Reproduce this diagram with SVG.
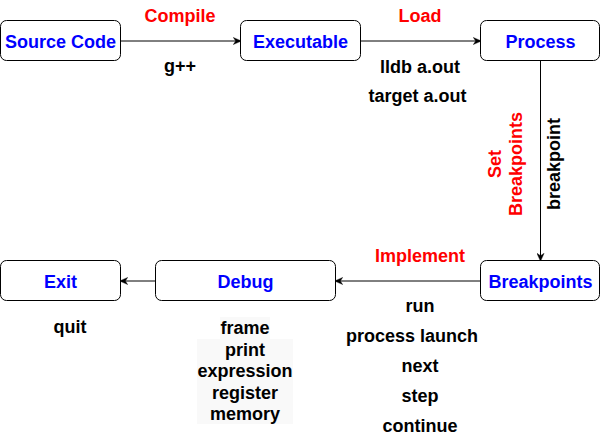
<svg xmlns="http://www.w3.org/2000/svg" width="601" height="440" viewBox="0 0 601 440">
<defs>
<style>
.box{fill:#fff;stroke:#000;stroke-width:1}
.nl{font-family:"Liberation Sans",Arial,sans-serif;font-weight:bold;font-size:18px;fill:#0000FF;text-anchor:middle}
.rl{font-family:"Liberation Sans",Arial,sans-serif;font-weight:bold;font-size:18px;fill:#FF0000;text-anchor:middle}
.bl{font-family:"Liberation Sans",Arial,sans-serif;font-weight:bold;font-size:18px;fill:#000;text-anchor:middle}
.edge{fill:none;stroke:#000;stroke-width:1}
</style>
<marker id="arr" viewBox="0 0 10 10" refX="9" refY="5" markerWidth="9" markerHeight="8" markerUnits="userSpaceOnUse" orient="auto">
<path d="M0,0.5 L10,5 L0,9.5 L3,5 Z" fill="#000" stroke="#000" stroke-width="0.5"/>
</marker>
</defs>
<rect width="601" height="440" fill="#fff"/>
<g id="connectors">
<path class="edge" d="M120.5,41 L240.5,41" marker-end="url(#arr)"/>
<path class="edge" d="M360.5,41 L480.5,41" marker-end="url(#arr)"/>
<path class="edge" d="M540.5,60.5 L540.5,260.5" marker-end="url(#arr)"/>
<path class="edge" d="M480.5,281 L335.5,281" marker-end="url(#arr)"/>
<path class="edge" d="M155.5,281 L120.5,281" marker-end="url(#arr)"/>
<text class="rl" x="180" y="22">Compile</text>
<text class="bl" x="180" y="72">g++</text>
<text class="rl" x="420" y="22">Load</text>
<text class="bl" x="420" y="73">lldb a.out</text>
<text class="bl" x="417.5" y="101.5">target a.out</text>
<text class="rl" transform="translate(501,164) rotate(-90)" x="0" y="0">Set</text>
<text class="rl" transform="translate(521.5,164) rotate(-90)" x="0" y="0">Breakpoints</text>
<text class="bl" transform="translate(560,164) rotate(-90)" x="0" y="0">breakpoint</text>
<text class="rl" x="420" y="262">Implement</text>
<text class="bl" x="420" y="311.5">run</text>
<text class="bl" x="412" y="341.5">process launch</text>
<text class="bl" x="420" y="371.5">next</text>
<text class="bl" x="420" y="401.5">step</text>
<text class="bl" x="420" y="431.5">continue</text>
<text class="bl" x="70" y="333">quit</text>
<rect x="220" y="317" width="50" height="22" fill="#f9f9f9"/>
<rect x="197" y="339" width="96" height="85" fill="#f9f9f9"/>
<text class="bl" x="245" y="334">frame</text>
<text class="bl" x="245" y="355.5">print</text>
<text class="bl" x="245" y="377">expression</text>
<text class="bl" x="245" y="398.5">register</text>
<text class="bl" x="245" y="420">memory</text>
</g>
<g id="source-code"><rect class="box" x="0.5" y="20.5" width="120" height="40" rx="6"/><text class="nl" x="60.5" y="47.5">Source Code</text></g>
<g id="executable"><rect class="box" x="240.5" y="20.5" width="120" height="40" rx="6"/><text class="nl" x="300.5" y="47.5">Executable</text></g>
<g id="process"><rect class="box" x="480.5" y="20.5" width="119" height="40" rx="6"/><text class="nl" x="540.5" y="47.5">Process</text></g>
<g id="breakpoints"><rect class="box" x="480.5" y="260.5" width="119" height="40" rx="6"/><text class="nl" x="540.5" y="287.5">Breakpoints</text></g>
<g id="debug"><rect class="box" x="155.5" y="260.5" width="180" height="40" rx="6"/><text class="nl" x="245.5" y="287.5">Debug</text></g>
<g id="exit"><rect class="box" x="0.5" y="260.5" width="120" height="40" rx="6"/><text class="nl" x="60.5" y="287.5">Exit</text></g>
</svg>
